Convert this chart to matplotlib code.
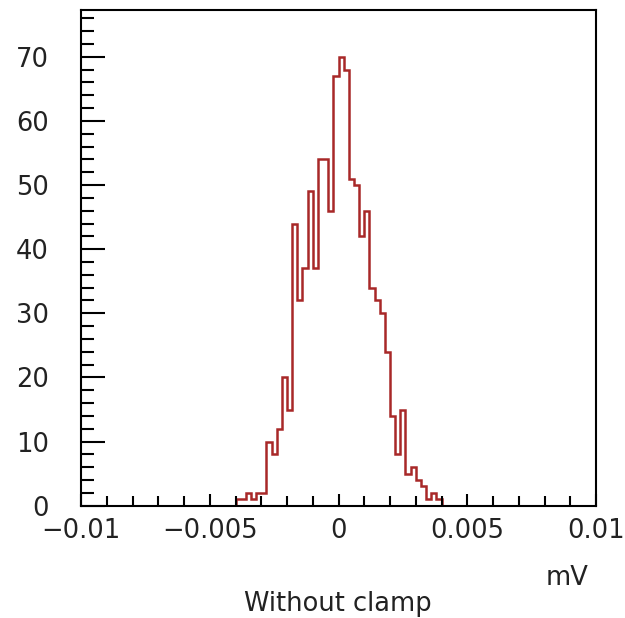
import numpy as np
import matplotlib
matplotlib.use("Agg")
import matplotlib.pyplot as plt
from matplotlib.ticker import MultipleLocator, FixedLocator, FixedFormatter

# histogram: 40 bins of width 0.0002 mV from -0.004 to 0.004
bin_edges = np.round(np.arange(-0.004, 0.004 + 1e-9, 0.0002), 6)
counts = [1, 1, 2, 1, 2, 2, 10, 8, 12, 20,
          15, 44, 32, 37, 49, 37, 54, 54, 46, 67,
          70, 68, 51, 50, 42, 46, 34, 32, 30, 24,
          14, 8, 15, 5, 6, 4, 3, 1, 2, 1]
x_ticks = [-0.01, -0.005, 0, 0.005, 0.01]
x_tick_labels = ["\u22120.01", "\u22120.005", "0", "0.005", "0.01"]
y_ticks = [0, 10, 20, 30, 40, 50, 60, 70]
x_unit = "mV"
title_text = "Without clamp"

fig = plt.figure(figsize=(6.25, 6.18), dpi=100)
ax = fig.add_axes([81/625, 1 - 505.7/618, (596-81)/625, (505.7-10)/618])

ax.stairs(counts, bin_edges, color="#a82828", linewidth=1.8)

ax.set_xlim(-0.01, 0.01)
ax.set_ylim(0, 77.3)

ax.xaxis.set_major_locator(FixedLocator(x_ticks))
ax.xaxis.set_major_formatter(FixedFormatter(x_tick_labels))
ax.xaxis.set_minor_locator(MultipleLocator(0.001))
ax.yaxis.set_major_locator(FixedLocator(y_ticks))
ax.yaxis.set_minor_locator(MultipleLocator(2))

ax.tick_params(axis="both", which="both", direction="in", top=False, right=False,
               width=1.5, colors="black", labelsize=18.5)
ax.tick_params(axis="y", which="major", length=17, pad=23)
ax.tick_params(axis="y", which="minor", length=9.5)
ax.tick_params(axis="x", which="major", length=9, pad=9)
ax.tick_params(axis="x", which="minor", length=7.2)
for lab in ax.get_xticklabels() + ax.get_yticklabels():
    lab.set_color("#222222")

for s in ax.spines.values():
    s.set_linewidth(1.5)
    s.set_color("black")

fig.text(588/625, 1 - 578/618, x_unit, ha="right", va="center", fontsize=18.5, color="#222222")
fig.text(338/625, 1 - 604/618, title_text, ha="center", va="center", fontsize=18.5, color="#222222")

fig.savefig("out.png", dpi=100, facecolor="white")
